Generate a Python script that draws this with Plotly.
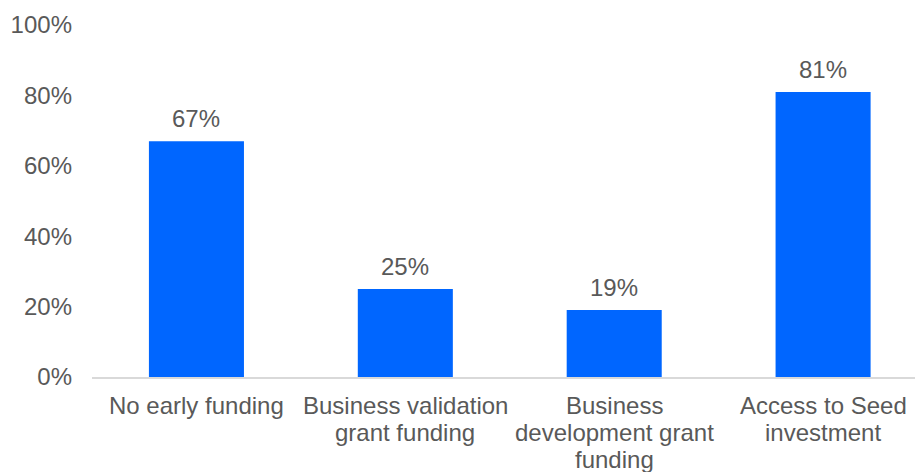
import plotly.graph_objects as go

# Share of respondents by funding route
categories = [
    "No early funding",
    "Business validation<br>grant funding",
    "Business<br>development grant<br>funding",
    "Access to Seed<br>investment",
]
shares = [0.67, 0.25, 0.19, 0.81]
y_ticks = [0, 0.2, 0.4, 0.6, 0.8, 1.0]
y_tick_labels = ["0%", "20%", "40%", "60%", "80%", "100%"]

BAR_COLOR = "#0066FF"
TEXT_COLOR = "#595959"
FONT = "Liberation Sans, Arial, sans-serif"
FONT_SIZE = 24
LINE_STEP = 27  # px between lines of a category label

fig = go.Figure(
    go.Bar(
        x=categories,
        y=shares,
        marker=dict(color=BAR_COLOR, line=dict(width=0)),
        hoverinfo="skip",
    )
)

# Value labels above each bar
for cat, val in zip(categories, shares):
    fig.add_annotation(
        x=cat,
        y=val,
        text=f"{round(val * 100):d}%",
        showarrow=False,
        yanchor="bottom",
        yshift=7,
        font=dict(family=FONT, size=FONT_SIZE, color=TEXT_COLOR),
    )

# Category labels under the axis, one annotation per line for tight line spacing
for cat in categories:
    for i, line in enumerate(cat.split("<br>")):
        fig.add_annotation(
            x=cat,
            y=0,
            text=line,
            showarrow=False,
            yanchor="top",
            yshift=-13 - i * LINE_STEP,
            font=dict(family=FONT, size=FONT_SIZE, color=TEXT_COLOR),
        )

fig.update_layout(
    width=915,
    height=472,
    margin=dict(l=92, r=0, t=25, b=95),
    paper_bgcolor="white",
    plot_bgcolor="white",
    bargap=0.545,
    showlegend=False,
    font=dict(family=FONT, size=FONT_SIZE, color=TEXT_COLOR),
    xaxis=dict(
        range=[-0.5, 3.44],
        showgrid=False,
        showline=True,
        linecolor="#D9D9D9",
        linewidth=2,
        ticks="",
        showticklabels=False,
        fixedrange=True,
    ),
    yaxis=dict(
        range=[0, 1.0],
        tickvals=y_ticks,
        ticktext=y_tick_labels,
        showgrid=False,
        zeroline=False,
        showline=False,
        ticks="",
        ticklabelstandoff=19,
        tickfont=dict(family=FONT, size=FONT_SIZE, color=TEXT_COLOR),
        fixedrange=True,
    ),
)

fig.write_html("out.html", config={"displayModeBar": False})
